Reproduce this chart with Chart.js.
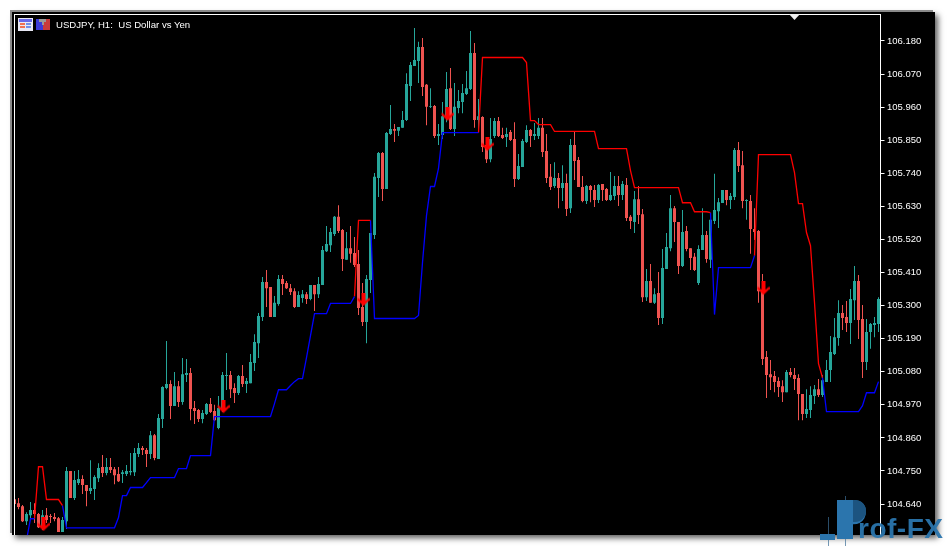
<!DOCTYPE html>
<html>
<head>
<meta charset="utf-8">
<title>USDJPY H1</title>
<script src="https://cdn.jsdelivr.net/npm/chart.js@4"></script>
<style>
  html, body { margin: 0; padding: 0; background: #fff; width: 947px; height: 546px; overflow: hidden; }
  #frame { position: absolute; left: 12px; top: 12px; width: 923px; height: 523px; background: #000;
           box-shadow: -2px -2px 0 #8a8a8a, 3px 3px 6px rgba(0,0,0,.65); }
  #chart { position: absolute; left: 0; top: 0; }
  #title { position: absolute; left: 56px; top: 19px; color: #fff; font: 9.6px/12px "Liberation Sans", sans-serif; white-space: pre; }
  .mark { position: absolute; font-family: "Liberation Sans", sans-serif; font-weight: bold; color: #2b75ad; }
  #logoP { left: 834px; top: 489px; font-size: 56px; line-height: 60px; transform-origin: left top; transform: scaleX(.9); }
  #logoText { left: 858px; top: 514px; font-size: 28px; line-height: 30px; letter-spacing: .5px; opacity: .95; }
  #logoStem { position: absolute; left: 837px; top: 500px; width: 16px; height: 39px; background: #2b75ad; }
  #logoBowl { position: absolute; left: 853px; top: 500px; width: 13px; height: 22px; background: #1c5480; border-radius: 0 12px 12px 0; }
  #logoBase { position: absolute; left: 820px; top: 534px; width: 15px; height: 6px; background: #2b75ad; }
  #logoWick { position: absolute; left: 828px; top: 517px; width: 1px; height: 29px; background: rgba(60,110,150,.7); }
  #logoWick2 { position: absolute; left: 845px; top: 496px; width: 1px; height: 50px; background: rgba(60,110,150,.7); }
</style>
</head>
<body>
<div id="frame"></div>
<canvas id="chart" width="947" height="546"></canvas>
<div id="title">USDJPY, H1:  US Dollar vs Yen</div>
<div id="logoWick"></div>
<div id="logoWick2"></div>
<div id="logoBase"></div>
<div class="mark" id="logoP">P</div>
<div id="logoStem"></div>
<div id="logoBowl"></div>
<div class="mark" id="logoText">rof-FX</div>
<script>
const _ = null;

const tickLabels = [106.180,106.070,105.960,105.850,105.740,105.630,105.520,105.410,105.300,105.190,105.080,104.970,104.860,104.750,104.640];

const opens = [
  104.656,104.643,104.633,104.583,104.603,104.620,104.607,104.563,104.603,104.600,
  104.597,104.593,104.547,104.583,104.750,104.660,104.710,104.723,104.703,104.683,
  104.690,104.726,104.763,104.743,104.763,104.756,104.740,104.740,104.740,104.746,
  104.746,104.806,104.826,104.820,104.806,104.869,104.790,104.923,105.026,105.039,
  104.966,105.032,104.979,105.069,105.076,104.959,104.953,104.923,104.939,104.973,
  104.949,104.893,104.953,105.066,105.069,105.026,105.009,105.066,105.039,105.042,
  105.109,105.175,105.262,105.378,105.362,105.262,105.305,105.388,105.375,105.358,
  105.348,105.295,105.325,105.338,105.322,105.368,105.338,105.368,105.481,105.501,
  105.538,105.595,105.551,105.452,105.491,105.475,105.438,105.295,105.245,105.385,
  105.535,105.724,105.807,105.688,105.871,105.887,105.881,105.891,105.917,106.030,
  106.097,106.113,106.160,106.034,105.961,105.964,105.864,105.867,105.927,106.023,
  105.887,105.957,105.977,106.004,106.020,106.140,105.917,105.927,105.834,105.787,
  105.864,105.914,105.867,105.861,105.877,105.854,105.721,105.761,105.844,105.884,
  105.864,105.864,105.891,105.814,105.728,105.698,105.724,105.691,105.708,105.624,
  105.834,105.784,105.694,105.648,105.698,105.684,105.651,105.704,105.688,105.651,
  105.664,105.698,105.668,105.701,105.595,105.578,105.654,105.604,105.328,105.382,
  105.309,105.342,105.259,105.422,105.491,105.624,105.578,105.432,105.548,105.491,
  105.462,105.375,105.485,105.535,105.452,105.581,105.614,105.641,105.684,105.651,
  105.661,105.817,105.767,105.648,105.648,105.555,105.548,105.352,105.129,105.072,
  105.066,105.049,105.032,105.012,105.079,105.069,105.059,105.006,104.939,104.953,
  104.999,105.022,105.003,105.046,105.086,105.139,105.192,105.275,105.262,105.242,
  105.318,105.382,105.255,105.112,105.212,105.235,105.239
];

const highs = [
  104.660,104.660,104.637,104.613,104.647,104.643,104.610,104.620,104.627,104.607,
  104.610,104.597,104.597,104.763,104.750,104.750,104.753,104.736,104.703,104.786,
  104.736,104.776,104.803,104.793,104.793,104.763,104.763,104.753,104.770,104.810,
  104.826,104.843,104.833,104.826,104.883,104.873,104.939,105.032,105.182,105.052,
  105.079,105.049,105.126,105.122,105.092,104.983,104.956,104.953,104.976,104.993,
  104.970,104.999,105.079,105.142,105.082,105.042,105.069,105.102,105.059,105.139,
  105.205,105.275,105.395,105.418,105.362,105.332,105.402,105.402,105.382,105.372,
  105.358,105.348,105.352,105.345,105.368,105.368,105.395,105.498,105.565,105.558,
  105.598,105.634,105.555,105.545,105.565,105.528,105.485,105.375,105.402,105.541,
  105.741,105.811,105.811,105.877,105.967,105.904,105.894,105.947,106.073,106.110,
  106.223,106.177,106.190,106.037,106.023,105.967,105.904,105.977,106.077,106.090,
  106.040,106.017,106.037,106.080,106.213,106.173,105.987,105.930,105.857,105.924,
  105.924,105.927,105.891,105.891,105.884,105.910,105.804,105.854,105.900,105.887,
  105.907,105.924,105.924,105.871,105.771,105.777,105.741,105.767,105.738,105.854,
  105.877,105.794,105.731,105.701,105.701,105.701,105.704,105.704,105.691,105.744,
  105.731,105.731,105.714,105.724,105.601,105.681,105.698,105.621,105.422,105.438,
  105.358,105.412,105.488,105.541,105.668,105.631,105.578,105.618,105.565,105.491,
  105.475,105.501,105.624,105.548,105.585,105.738,105.658,105.684,105.684,105.674,
  105.824,105.844,105.814,105.654,105.668,105.624,105.551,105.405,105.149,105.119,
  105.082,105.062,105.052,105.086,105.092,105.092,105.072,105.006,105.022,105.032,
  105.036,105.056,105.069,105.119,105.199,105.259,105.318,105.302,105.315,105.355,
  105.432,105.402,105.302,105.255,105.242,105.262,105.328
];

const lows = [
  104.637,104.623,104.580,104.570,104.590,104.577,104.560,104.554,104.577,104.577,
  104.583,104.547,104.547,104.557,104.660,104.653,104.703,104.673,104.633,104.673,
  104.653,104.713,104.730,104.736,104.743,104.706,104.713,104.710,104.733,104.736,
  104.733,104.796,104.803,104.763,104.790,104.786,104.790,104.893,105.022,104.923,
  104.966,104.963,104.970,105.046,104.919,104.906,104.913,104.909,104.936,104.943,
  104.916,104.889,104.946,105.019,104.993,104.976,105.003,105.029,105.009,105.042,
  105.082,105.126,105.249,105.295,105.262,105.262,105.299,105.335,105.355,105.335,
  105.292,105.295,105.309,105.305,105.318,105.282,105.325,105.368,105.478,105.478,
  105.531,105.541,105.415,105.452,105.442,105.428,105.269,105.232,105.175,105.342,
  105.521,105.661,105.648,105.688,105.867,105.844,105.864,105.891,105.914,105.980,
  106.097,106.040,105.997,105.900,105.957,105.857,105.834,105.854,105.910,105.884,
  105.864,105.940,105.940,106.000,106.017,105.891,105.877,105.811,105.774,105.777,
  105.857,105.861,105.854,105.827,105.847,105.694,105.718,105.761,105.841,105.827,
  105.851,105.854,105.794,105.708,105.684,105.691,105.624,105.648,105.598,105.608,
  105.718,105.694,105.644,105.638,105.644,105.628,105.641,105.648,105.648,105.648,
  105.651,105.631,105.651,105.581,105.555,105.541,105.571,105.312,105.315,105.309,
  105.305,105.235,105.239,105.422,105.481,105.511,105.405,105.428,105.481,105.418,
  105.415,105.368,105.485,105.442,105.425,105.571,105.558,105.641,105.634,105.621,
  105.651,105.744,105.624,105.585,105.472,105.518,105.309,105.102,104.993,105.019,
  105.012,104.996,104.979,105.012,105.062,105.019,104.919,104.919,104.926,104.926,
  104.973,104.996,104.996,105.046,105.046,105.136,105.166,105.219,105.212,105.172,
  105.252,105.189,105.059,105.086,105.156,105.195,105.212
];

const closes = [
  104.640,104.630,104.583,104.607,104.620,104.607,104.563,104.603,104.587,104.597,
  104.590,104.547,104.587,104.750,104.660,104.720,104.723,104.703,104.683,104.693,
  104.730,104.760,104.743,104.763,104.753,104.736,104.716,104.746,104.750,104.750,
  104.810,104.826,104.820,104.806,104.869,104.793,104.926,105.029,105.039,104.966,
  105.032,104.979,105.072,105.076,104.956,104.949,104.923,104.943,104.973,104.946,
  104.919,104.959,105.069,105.069,105.022,105.009,105.066,105.039,105.049,105.112,
  105.179,105.265,105.378,105.358,105.262,105.309,105.388,105.372,105.358,105.345,
  105.295,105.335,105.338,105.322,105.368,105.338,105.372,105.485,105.505,105.545,
  105.595,105.548,105.455,105.491,105.472,105.435,105.292,105.245,105.388,105.541,
  105.728,105.807,105.688,105.874,105.887,105.881,105.894,105.917,106.037,106.100,
  106.117,106.160,106.027,105.961,105.964,105.864,105.871,105.930,106.020,105.887,
  105.961,105.980,106.007,106.023,106.140,105.917,105.930,105.827,105.787,105.854,
  105.914,105.864,105.857,105.871,105.851,105.721,105.764,105.847,105.884,105.864,
  105.871,105.891,105.811,105.724,105.694,105.724,105.691,105.708,105.621,105.834,
  105.781,105.694,105.648,105.698,105.684,105.651,105.701,105.684,105.651,105.668,
  105.698,105.668,105.704,105.591,105.581,105.654,105.601,105.328,105.382,105.309,
  105.338,105.259,105.425,105.495,105.624,105.578,105.432,105.545,105.488,105.458,
  105.418,105.488,105.535,105.455,105.585,105.618,105.644,105.684,105.651,105.664,
  105.817,105.764,105.648,105.651,105.555,105.545,105.348,105.122,105.069,105.062,
  105.046,105.029,105.012,105.079,105.069,105.056,105.006,104.939,104.956,105.003,
  105.022,105.003,105.052,105.086,105.146,105.195,105.275,105.259,105.242,105.322,
  105.382,105.252,105.112,105.212,105.239,105.242,105.322
];

const blueLine = [
  _,_,_,104.520,104.591,104.591,_,_,_,_,
  _,_,104.635,104.561,104.561,104.561,104.561,104.561,104.561,104.561,
  104.561,104.561,104.561,104.561,104.561,104.561,104.595,104.668,104.668,104.695,
  104.695,104.695,104.695,104.711,104.728,104.728,104.728,104.728,104.728,104.728,
  104.728,104.758,104.758,104.758,104.801,104.801,104.801,104.801,104.801,104.801,
  104.931,104.931,104.931,104.931,104.931,104.931,104.931,104.931,104.931,104.931,
  104.931,104.931,104.931,104.931,104.931,104.974,105.020,105.020,105.020,105.034,
  105.047,105.057,105.057,105.127,105.200,105.273,105.273,105.273,105.273,105.307,
  105.307,105.307,105.307,105.307,105.307,105.330,_,_,_,105.583,
  105.257,105.257,105.257,105.257,105.257,105.257,105.257,105.257,105.257,105.257,
  105.257,105.267,105.443,105.599,105.696,105.696,105.756,105.875,105.875,105.875,
  105.875,105.875,105.875,105.875,105.875,105.875,105.875,_,_,_,
  _,_,_,_,_,_,_,_,_,_,
  _,_,_,_,_,_,_,_,_,_,
  _,_,_,_,_,_,_,_,_,_,
  _,_,_,_,_,_,_,_,_,_,
  _,_,_,_,_,_,_,_,_,_,
  _,_,_,_,105.609,105.270,105.426,105.426,105.426,105.426,
  105.426,105.426,105.426,105.426,105.426,105.466,_,_,_,_,
  _,_,_,_,_,_,_,_,_,_,
  _,_,105.060,104.947,104.947,104.947,104.947,104.947,104.947,104.947,
  104.947,104.947,104.967,105.010,105.010,105.010,105.047
];

const redLine = [
  _,_,_,_,_,104.591,104.764,104.764,104.655,104.655,
  104.655,104.655,104.635,_,_,_,_,_,_,_,
  _,_,_,_,_,_,_,_,_,_,
  _,_,_,_,_,_,_,_,_,_,
  _,_,_,_,_,_,_,_,_,_,
  _,_,_,_,_,_,_,_,_,_,
  _,_,_,_,_,_,_,_,_,_,
  _,_,_,_,_,_,_,_,_,_,
  _,_,_,_,_,105.330,105.583,105.583,105.583,105.583,
  _,_,_,_,_,_,_,_,_,_,
  _,_,_,_,_,_,_,_,_,_,
  _,_,_,_,_,_,105.875,106.125,106.125,106.125,
  106.125,106.125,106.125,106.125,106.125,106.125,106.125,106.125,106.108,105.915,
  105.915,105.902,105.902,105.902,105.902,105.879,105.879,105.879,105.879,105.879,
  105.879,105.879,105.879,105.879,105.879,105.879,105.822,105.822,105.822,105.822,
  105.822,105.822,105.822,105.822,105.749,105.692,105.692,105.692,105.692,105.692,
  105.692,105.692,105.692,105.692,105.692,105.692,105.692,105.642,105.642,105.642,
  105.612,105.612,105.612,105.612,105.609,_,_,_,_,_,
  _,_,_,_,_,105.466,105.802,105.802,105.802,105.802,
  105.802,105.802,105.802,105.802,105.802,105.742,105.639,105.639,105.543,105.499,
  105.310,105.107,105.060,_,_,_,_,_,_,_,
  _,_,_,_,_,_,_
];

const arrowBars = [7,52,87,108,118,187];
const arrowPrices = [104.572,104.964,105.320,105.936,105.836,105.357];

const upColor = '#26a69a';
const downColor = '#ef5350';
const candleLabels = opens.map((o, i) => String(i));
const candleColors = opens.map((o, i) => closes[i] >= o ? upColor : downColor);

// the little red down arrow used as the signal marker
function makeArrow() {
  const c = document.createElement('canvas');
  c.width = 14;
  c.height = 14;
  const g = c.getContext('2d');
  g.fillStyle = '#ff0000';
  g.translate(2, 0);
  g.beginPath();
  g.moveTo(4, 0); g.lineTo(8, 0); g.lineTo(8, 8.5); g.lineTo(11.5, 5); g.lineTo(12, 7.5);
  g.lineTo(6, 13.5); g.lineTo(0, 7.5); g.lineTo(0.5, 5); g.lineTo(4, 8.5);
  g.closePath();
  g.fill();
  return c;
}

const chromePlugin = {
  id: 'chrome',
  afterDraw(chart) {
    const ctx = chart.ctx;
    ctx.save();
    // strip left of the chart border, hides the cut candle
    ctx.fillStyle = '#000';
    ctx.fillRect(12, 12, 2, 523);
    ctx.fillStyle = '#fff';
    ctx.fillRect(14, 14, 1, 521);
    ctx.fillRect(14, 14, 867, 1);
    // shift marker at the top
    ctx.fillStyle = '#eee';
    ctx.beginPath();
    ctx.moveTo(789, 14); ctx.lineTo(800, 14); ctx.lineTo(794.5, 20);
    ctx.closePath();
    ctx.fill();
    // window icons
    ctx.fillStyle = '#e8e8f4';
    ctx.fillRect(18, 18, 15, 13);
    ctx.fillStyle = '#6868e8';
    ctx.fillRect(19, 19, 13, 3);
    ctx.fillStyle = '#f07050';
    ctx.fillRect(20, 23, 5, 2); ctx.fillRect(20, 26, 5, 2);
    ctx.fillStyle = '#7090e8';
    ctx.fillRect(26, 23, 5, 2); ctx.fillRect(26, 26, 5, 2);
    ctx.fillStyle = '#3a3ad8';
    ctx.fillRect(36, 19, 7, 11);
    ctx.fillStyle = '#c83a3a';
    ctx.fillRect(43, 19, 7, 11);
    ctx.fillStyle = '#999';
    ctx.fillRect(39, 19, 7, 3);
    ctx.fillRect(42, 22, 2, 3);
    ctx.restore();
  }
};

new Chart(document.getElementById('chart'), {
  type: 'bar',
  plugins: [chromePlugin],
  data: {
    labels: candleLabels,
    datasets: [
      {
        label: 'Arrows',
        type: 'line',
        data: arrowBars.map((b, i) => ({ x: candleLabels[b], y: arrowPrices[i] })),
        showLine: false,
        pointStyle: makeArrow(),
        pointRadius: 7,
        order: 0
      },
      {
        label: 'Blue',
        type: 'line',
        data: blueLine,
        borderColor: '#0000ff',
        borderWidth: 1.3,
        pointRadius: 0,
        tension: 0,
        order: 1
      },
      {
        label: 'Red',
        type: 'line',
        data: redLine,
        borderColor: '#ff0000',
        borderWidth: 1.3,
        pointRadius: 0,
        tension: 0,
        order: 1
      },
      {
        label: 'Body',
        data: opens.map((o, i) => [o, closes[i]]),
        backgroundColor: candleColors,
        barThickness: 3,
        maxBarThickness: 3,
        grouped: false,
        inflateAmount: 0,
        order: 2
      },
      {
        label: 'Wick',
        data: lows.map((l, i) => [l, highs[i]]),
        backgroundColor: candleColors,
        barThickness: 1,
        maxBarThickness: 1,
        grouped: false,
        inflateAmount: 0,
        order: 3
      }
    ]
  },
  options: {
    responsive: false,
    animation: false,
    layout: { padding: { left: 12.5, top: 14.5, right: 11.5, bottom: 11 } },
    plugins: { legend: { display: false }, tooltip: { enabled: false } },
    scales: {
      x: { display: false, offset: true },
      y: {
        position: 'right',
        min: 104.537,
        max: 106.268,
        afterBuildTicks(scale) {
          scale.ticks = tickLabels.map(v => ({ value: v }));
        },
        afterFit(scale) {
          scale.width = 55;
        },
        border: { color: '#fff', width: 1 },
        grid: { drawOnChartArea: false, color: '#fff', tickLength: 4 },
        ticks: {
          color: '#fff',
          padding: 2.5,
          autoSkip: false,
          maxRotation: 0,
          font: { family: '"Liberation Sans"', size: 9.5 },
          callback: v => v.toFixed(3)
        }
      }
    }
  }
});
</script>
</body>
</html>
